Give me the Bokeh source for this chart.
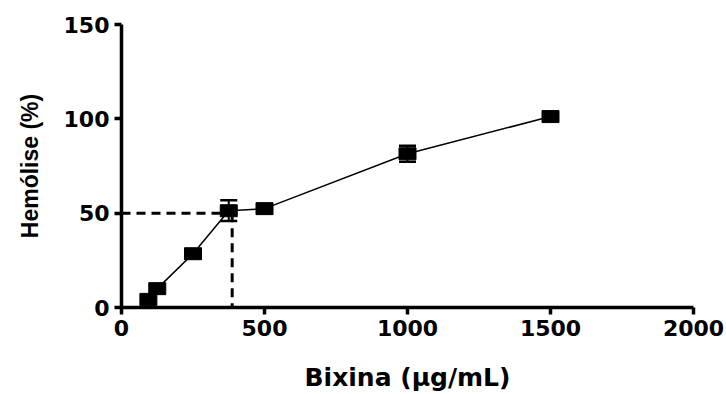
from bokeh.plotting import figure
from bokeh.embed import file_html
from bokeh.resources import INLINE
from bokeh.models import Range1d, FixedTicker, ColumnDataSource

# Data
conc = [94, 125, 250, 375, 500, 1000, 1500]
hemolise = [4.3, 10, 28.5, 51.3, 52.4, 81.5, 101.2]
err = [0.8, 0.8, 1.0, 5.5, 1.0, 4.2, 0.8]
ec50_x = [0, 387, 387]
ec50_y = [50, 50, 0]
x_ticks = [0, 500, 1000, 1500, 2000]
y_ticks = [0, 50, 100, 150]

lower = [h - e for h, e in zip(hemolise, err)]
upper = [h + e for h, e in zip(hemolise, err)]
src = ColumnDataSource(dict(x=conc, y=hemolise, lo=lower, hi=upper))
# caps only visible where the bar extends past the marker
vis = [i for i, e in enumerate(err) if e > 2]
cap_src = ColumnDataSource(dict(x=[conc[i] for i in vis],
                                lo=[lower[i] for i in vis],
                                hi=[upper[i] for i in vis]))

p = figure(width=726, height=394, output_backend="svg", toolbar_location=None,
           x_range=Range1d(0, 2000), y_range=Range1d(0, 150),
           min_border_left=121, min_border_right=33, min_border_top=24, min_border_bottom=86)
p.outline_line_color = None
p.grid.visible = False
p.background_fill_color = "white"
p.border_fill_color = "white"

# dashed reference lines
p.line(ec50_x[:2], ec50_y[:2], line_color="black", line_width=3, line_dash="9 6")
p.line(ec50_x[1:], ec50_y[1:], line_color="black", line_width=3, line_dash="9 6")

# connecting line
p.line("x", "y", source=src, line_color="black", line_width=1.5)
# error bars
p.segment(x0="x", y0="lo", x1="x", y1="hi", source=src, line_color="black", line_width=2)
p.scatter("x", "lo", source=cap_src, marker="dash", size=17, line_color="black", line_width=2.5)
p.scatter("x", "hi", source=cap_src, marker="dash", size=17, line_color="black", line_width=2.5)
# markers
p.rect("x", "y", width=17, height=12, width_units="screen", height_units="screen",
       source=src, fill_color="black", line_color="black")

for ax in (p.xaxis[0], p.yaxis[0]):
    ax.axis_line_width = 3.5
    ax.major_tick_line_width = 3.5
    ax.major_tick_out = 7
    ax.major_tick_in = 0
    ax.minor_tick_line_color = None
    ax.major_label_text_font = "DejaVu Sans"
    ax.major_label_text_font_style = "bold"
    ax.major_label_text_font_size = "22px"
    ax.major_label_text_color = "black"
    ax.axis_label_text_color = "black"
    ax.axis_label_text_font_style = "bold"

p.xaxis.ticker = FixedTicker(ticks=x_ticks)
p.yaxis.ticker = FixedTicker(ticks=y_ticks)
p.xaxis.axis_label = "Bixina (\u03bcg/mL)"
p.yaxis.axis_label = "Hem\u00f3lise (%)"
p.xaxis.axis_label_text_font = "DejaVu Sans"
p.xaxis.axis_label_text_font_size = "25px"
p.yaxis.axis_label_text_font = "Liberation Sans"
p.yaxis.axis_label_text_font_size = "23px"
p.xaxis.major_label_standoff = 5
p.yaxis.major_label_standoff = 5
p.xaxis.axis_label_standoff = 24
p.yaxis.axis_label_standoff = 18

open("out.html", "w").write(file_html(p, INLINE))
